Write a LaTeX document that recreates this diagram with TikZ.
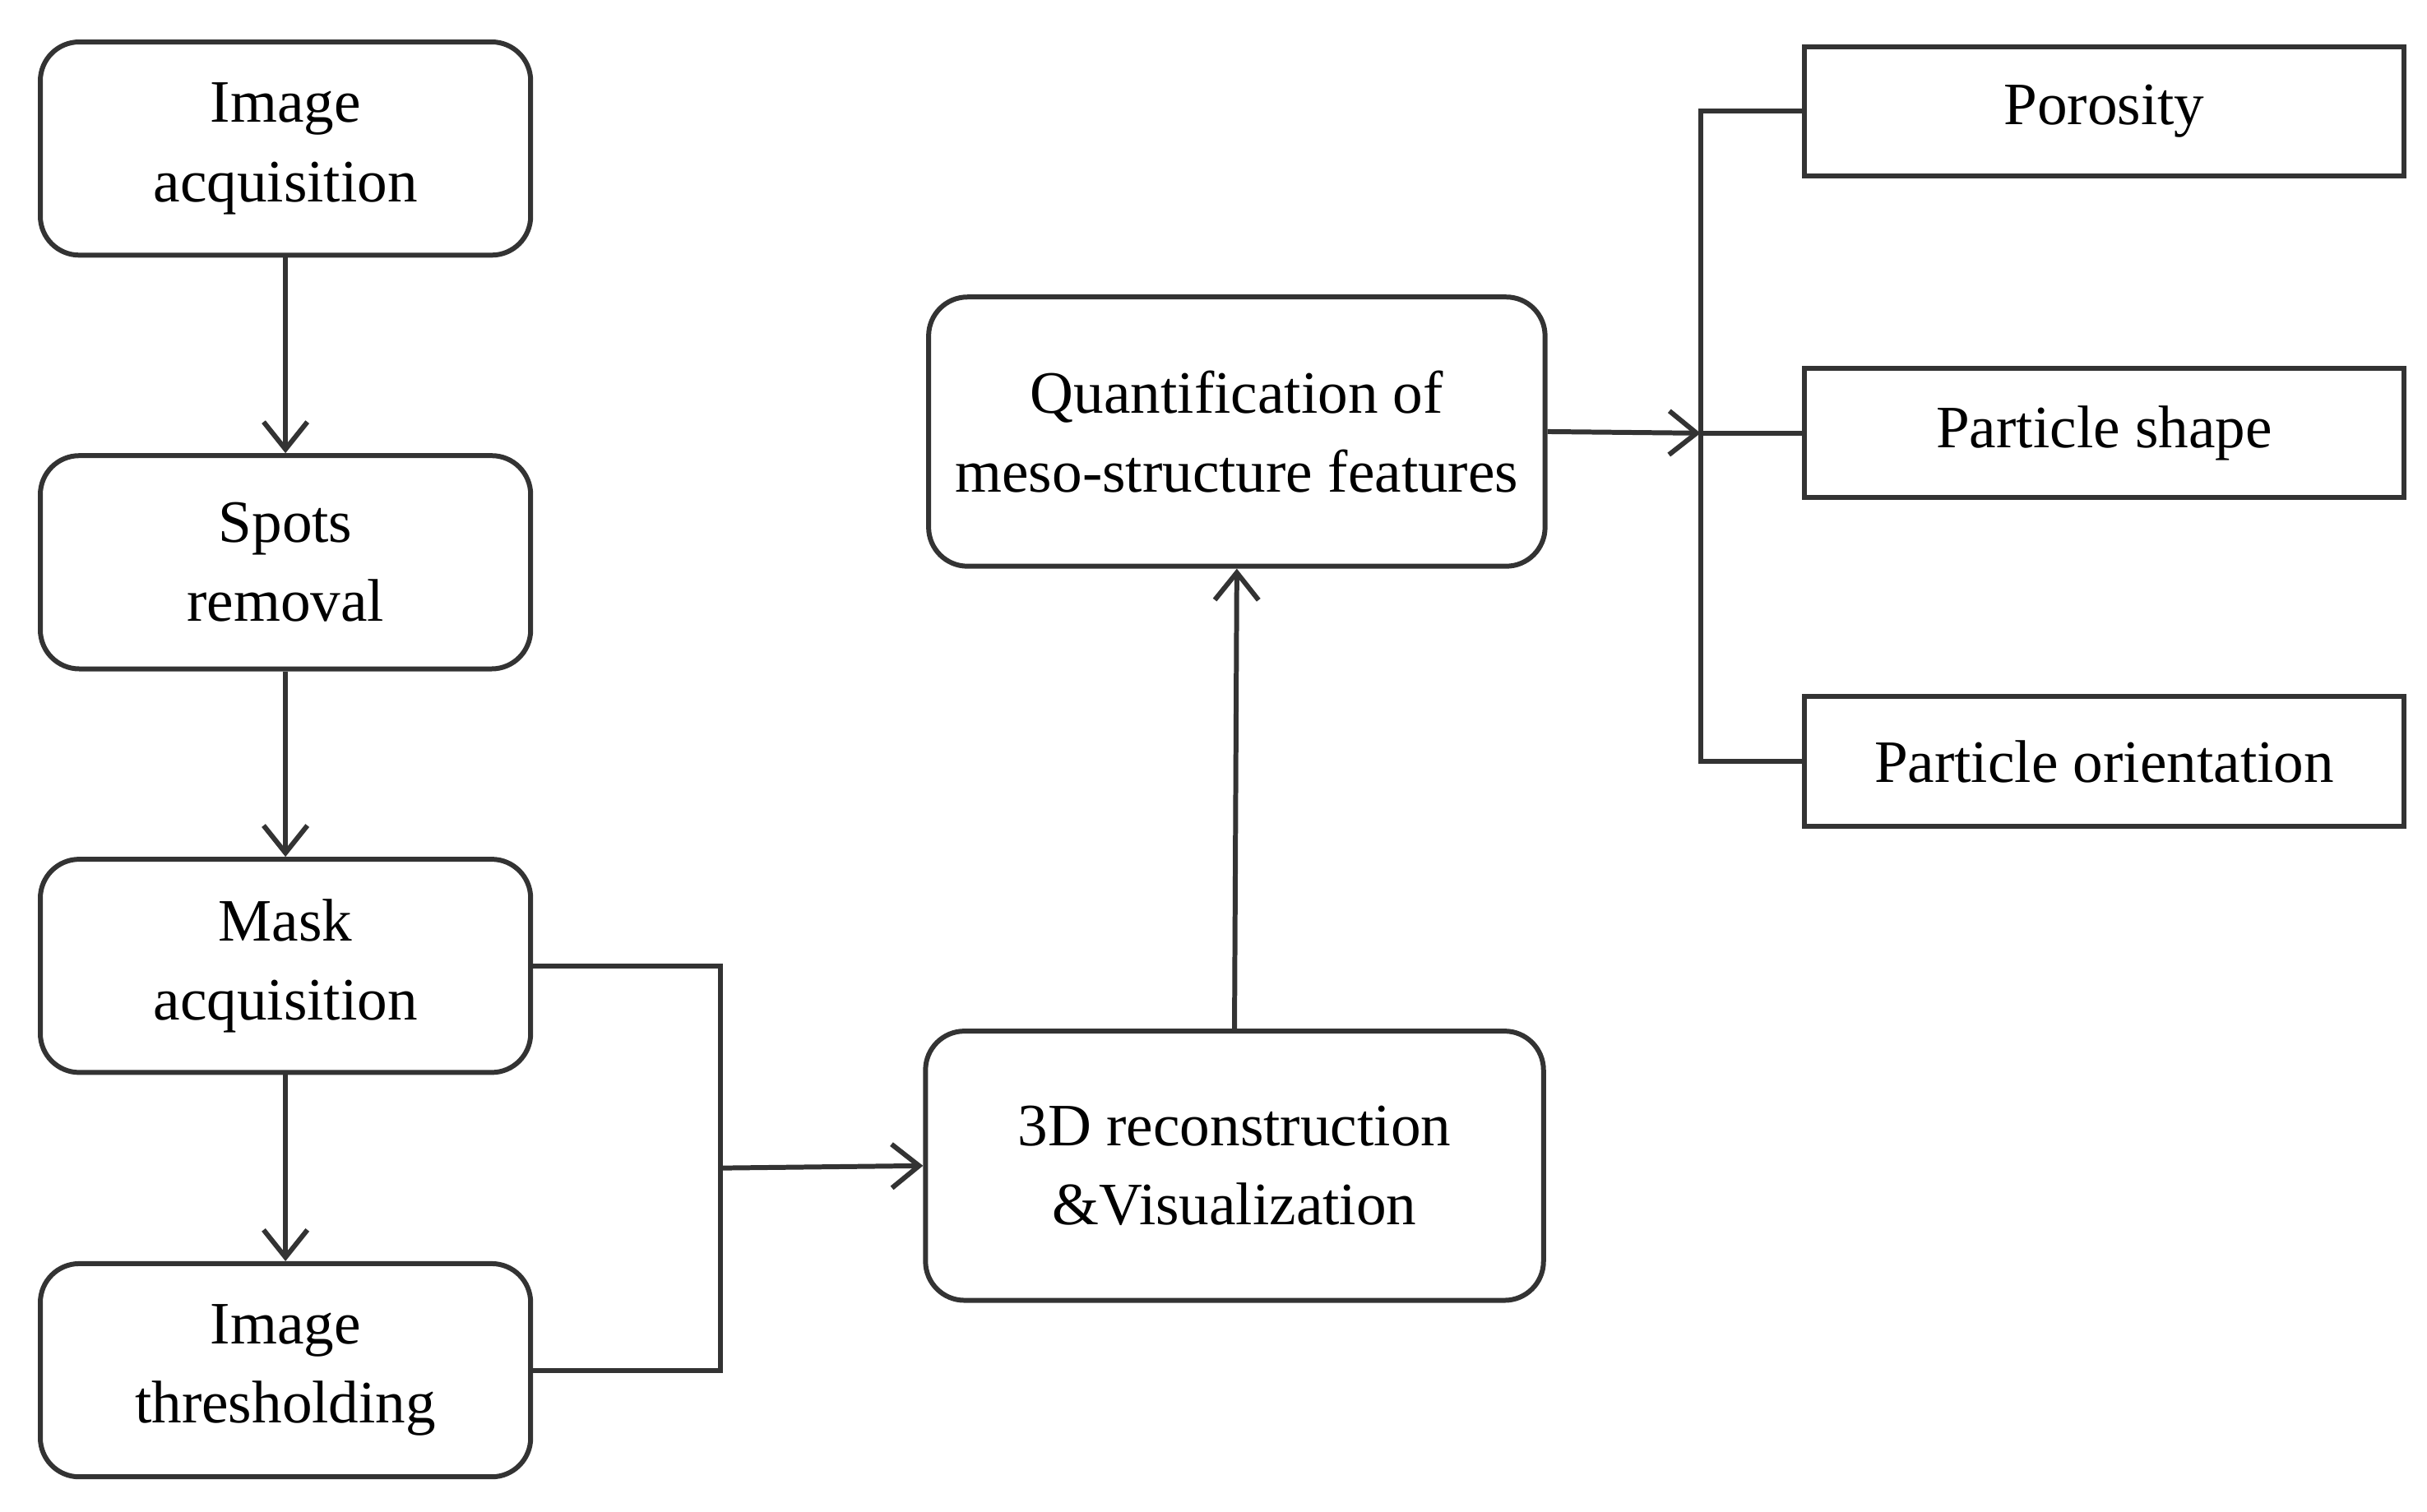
\documentclass[tikz,border=0pt]{standalone}
\usepackage{fontspec}
\setmainfont{Liberation Serif}
\usetikzlibrary{arrows.meta}
\begin{document}
\begin{tikzpicture}[x=0.01cm,y=-0.01cm,
  rb/.style={draw=black!80,line width=0.9pt,rounded corners=0.25cm,align=center,font=\fontsize{11}{14.5}\selectfont,inner sep=0pt},
  sb/.style={draw=black!80,line width=0.9pt,align=center,font=\fontsize{11}{14.5}\selectfont,inner sep=0pt,minimum width=3.85cm,minimum height=0.83cm},
  ln/.style={draw=black!80,line width=0.9pt},
  ar/.style={ln,-{Straight Barb[length=5pt,width=8pt,line width=0.9pt]}}]
\useasboundingbox (0,0) rectangle (1560,972);
\foreach \n/\y/\t in {a/95.5/Image\\acquisition, b/361.5/Spots\\removal, c/621/Mask\\acquisition, d/881/Image\\thresholding}
  \node[rb,minimum width=3.15cm,minimum height=1.37cm] (\n) at (183.5,\y) {\t};
\node[rb,minimum width=3.96cm,minimum height=1.73cm] (q) at (795,277.5) {Quantification of\\meso-structure features};
\node[rb,minimum width=3.97cm,minimum height=1.73cm] (r) at (793.5,749.5) {3D reconstruction\\\&Visualization};
\node[sb] (p1) at (1352.5,71.5) {Porosity};
\node[sb] (p2) at (1352.5,278.5) {Particle shape};
\node[sb] (p3) at (1352.5,489.5) {Particle orientation};
\draw[ar] (a) -- (b);
\draw[ar] (b) -- (c);
\draw[ar] (c) -- (d);
\coordinate (m) at (463,751);
\draw[ln] (c.east) -| (m);
\draw[ln] (d.east) -| (m);
\draw[ar] (m) -- (r.west);
\draw[ar] (r.north) -- (q.south);
\coordinate (bus) at (1093,278.5);
\draw[ar] (q.east) -- (bus);
\draw[ln] (p1.west) -| (bus);
\draw[ln] (p3.west) -| (bus);
\draw[ln] (bus) -- (p2.west);
\end{tikzpicture}
\end{document}
